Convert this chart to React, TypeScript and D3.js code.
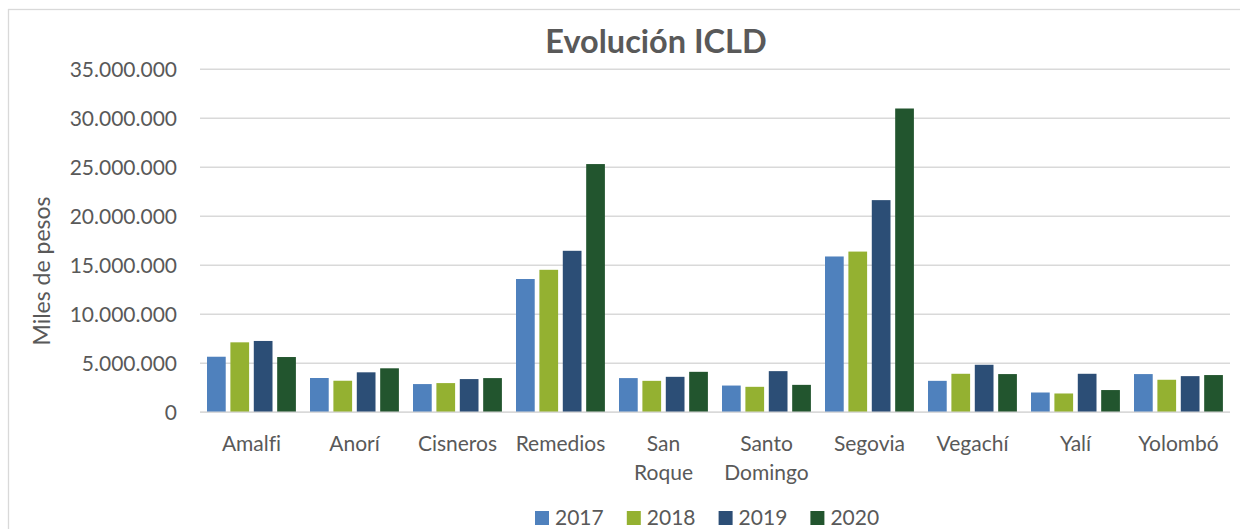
import React from "react";
import * as d3 from "d3";

const categories = ["Amalfi", "Anorí", "Cisneros", "Remedios", "San Roque", "Santo Domingo", "Segovia", "Vegachí", "Yalí", "Yolombó"];
const categoryLines = [["Amalfi"], ["Anorí"], ["Cisneros"], ["Remedios"], ["San", "Roque"], ["Santo", "Domingo"], ["Segovia"], ["Vegachí"], ["Yalí"], ["Yolombó"]];
const years = ["2017", "2018", "2019", "2020"];
const values2017 = [5670000, 3500000, 2880000, 13600000, 3490000, 2730000, 15900000, 3210000, 2020000, 3900000];
const values2018 = [7140000, 3220000, 2980000, 14540000, 3210000, 2600000, 16400000, 3930000, 1920000, 3320000];
const values2019 = [7280000, 4080000, 3390000, 16480000, 3620000, 4200000, 21650000, 4850000, 3930000, 3690000];
const values2020 = [5640000, 4490000, 3490000, 25330000, 4130000, 2800000, 31000000, 3900000, 2270000, 3800000];
const seriesValues = [values2017, values2018, values2019, values2020];
const colors = ["#4F81BD", "#94B131", "#2C4E76", "#22552E"];
const yTicks = [0, 5000000, 10000000, 15000000, 20000000, 25000000, 30000000, 35000000];

const FONT = "Lato, 'Open Sans', sans-serif";
const TEXT = "#595959";
const noLig = { fontVariantLigatures: "none" as const, fontFeatureSettings: "'liga' 0" };

export default function App() {
  const W = 1240, H = 529;
  const left = 200, right = 1230, top = 69.3, bottom = 412.3;
  const x = d3.scaleBand<string>().domain(categories).range([left, right]).padding(0);
  const xs = d3.scaleBand<string>().domain(years).range([7, 95.9]).paddingInner(0.2).paddingOuter(0);
  const y = d3.scaleLinear().domain([0, 35000000]).range([bottom, top]);
  const loc = d3.formatLocale({ thousands: ".", grouping: [3], decimal: ",", currency: ["$", ""] });
  const fmt = loc.format(",d");

  return (
    <svg width={W} height={H} style={{ position: "absolute", left: 0, top: 0, background: "#fff", ...noLig }}>
      <rect x={8.5} y={9.5} width={1240} height={600} fill="#fff" stroke="#d9d9d9" strokeWidth={1.3} />
      <text x={656} y={52.5} textAnchor="middle" fontFamily={FONT} fontWeight="bold" fontSize={32.5} fill={TEXT}>
        Evolución ICLD
      </text>
      {yTicks.map((t) => (
        <g key={t}>
          <line x1={left} x2={right} y1={y(t)} y2={y(t)} stroke="#d9d9d9" strokeWidth={1.4} />
          <text x={177} y={y(t)} dy="0.36em" textAnchor="end" fontFamily={FONT} fontSize={21} fill={TEXT}>
            {fmt(t)}
          </text>
        </g>
      ))}
      <text
        transform={`translate(50,271) rotate(-90)`}
        textAnchor="middle"
        fontFamily={FONT}
        fontSize={23}
        fill={TEXT}
      >
        Miles de pesos
      </text>
      {categories.map((c, i) => (
        <g key={c} transform={`translate(${x(c)},0)`}>
          {years.map((yr, j) => {
            const v = seriesValues[j][i];
            return (
              <rect
                key={yr}
                x={xs(yr)}
                y={y(v)}
                width={xs.bandwidth()}
                height={bottom - y(v)}
                fill={colors[j]}
              />
            );
          })}
          {categoryLines[i].map((ln, k) => (
            <text
              key={k}
              x={x.bandwidth() / 2}
              y={451 + k * 28.5}
              textAnchor="middle"
              fontFamily={FONT}
              fontSize={21}
              fill={TEXT}
              style={noLig}
            >
              {ln}
            </text>
          ))}
        </g>
      ))}
      <line x1={left} x2={right} y1={bottom} y2={bottom} stroke="#d9d9d9" strokeWidth={1.4} />
      {years.map((yr, j) => (
        <g key={yr} transform={`translate(${535 + j * 91.8},511)`}>
          <rect width={14} height={14} fill={colors[j]} />
          <text x={20} y={14} fontFamily={FONT} fontSize={21} fill={TEXT}>
            {yr}
          </text>
        </g>
      ))}
    </svg>
  );
}
